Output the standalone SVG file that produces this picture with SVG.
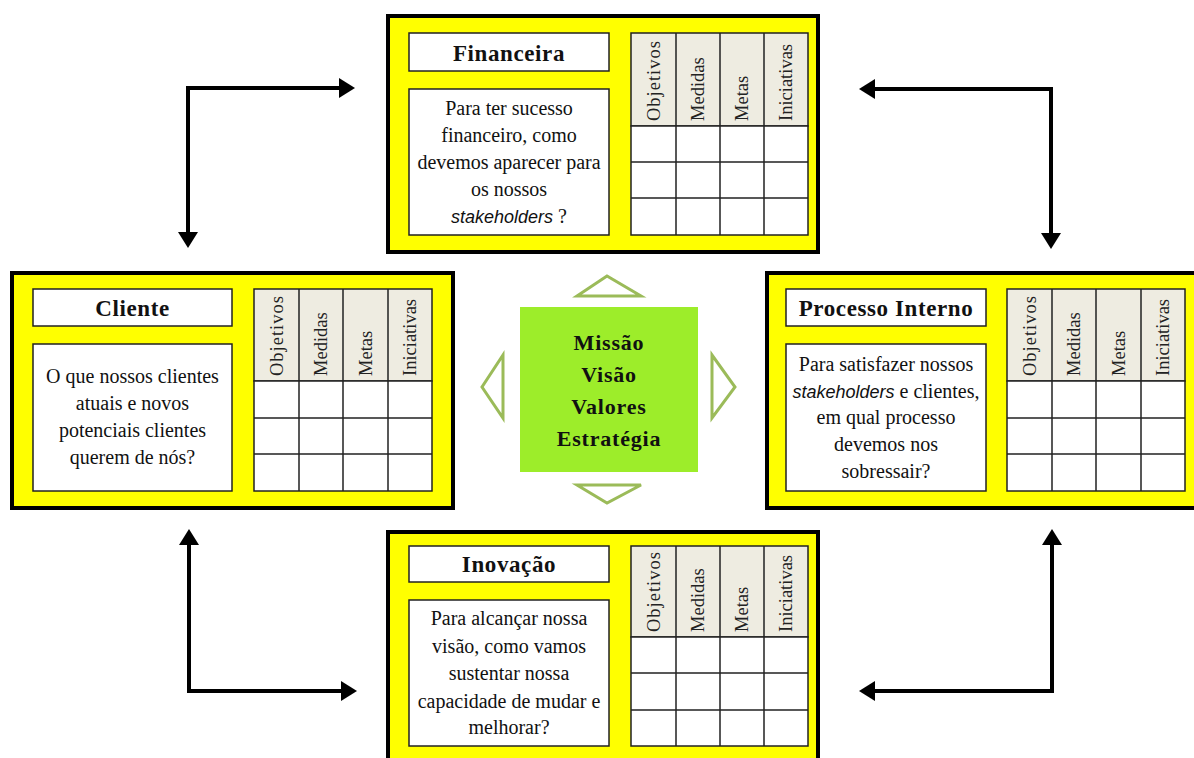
<svg xmlns="http://www.w3.org/2000/svg" width="1194" height="758" viewBox="0 0 1194 758">
<style>
.outer{fill:#ffff00;stroke:#000;stroke-width:4}
.box{fill:#fff;stroke:#222;stroke-width:1.5}
.hdr{fill:#eeece1;stroke:#222;stroke-width:1.5}
.grid{stroke:#222;stroke-width:1.5;fill:none}
.title{font-family:"Liberation Serif","Times New Roman",serif;font-weight:bold;font-size:23px;letter-spacing:0.6px;fill:#111;text-anchor:middle}
.q{font-family:"Liberation Serif","Times New Roman",serif;font-size:20px;fill:#111;text-anchor:middle}
.it{font-family:"Liberation Sans",Arial,sans-serif;font-style:italic;font-size:18px}
.col{font-family:"Liberation Serif","Times New Roman",serif;font-size:18.5px;fill:#222}
.center{font-family:"Liberation Serif","Times New Roman",serif;font-weight:bold;font-size:22px;letter-spacing:0.8px;fill:#111;text-anchor:middle}
.tri{fill:#fff;stroke:#9bbb59;stroke-width:3;stroke-linejoin:miter}
.conn{fill:none;stroke:#000;stroke-width:4;stroke-linejoin:miter;marker-start:url(#ah);marker-end:url(#ah)}
</style>
<defs>
<marker id="ah" viewBox="0 0 16 20" markerWidth="16" markerHeight="20" refX="0" refY="10" markerUnits="userSpaceOnUse" orient="auto-start-reverse">
<path d="M0,0 L16,10 L0,20 z" fill="#000"/>
</marker>
</defs>
<rect width="1194" height="758" fill="#fff"/>

<g id="connectors">
<path class="conn" d="M188,232 L188,88 L339,88"/>
<path class="conn" d="M875,89 L1051,89 L1051,233"/>
<path class="conn" d="M189,545 L189,691 L341,691"/>
<path class="conn" d="M1052,545 L1052,691 L875,691"/>
</g>

<g id="financeira">
<rect class="outer" x="388" y="16" width="430" height="236"/>
<rect class="box" x="409" y="33" width="200" height="38"/>
<text class="title" x="509" y="61">Financeira</text>
<rect class="box" x="409" y="89" width="200" height="146"/>
<text class="q" x="509" y="115">Para ter sucesso</text>
<text class="q" x="509" y="142">financeiro, como</text>
<text class="q" x="509" y="169">devemos aparecer para</text>
<text class="q" x="509" y="196">os nossos</text>
<text class="q" x="509" y="223"><tspan class="it">stakeholders</tspan> ?</text>
<rect class="hdr" x="631" y="33" width="177" height="93"/>
<rect class="box" x="631" y="126" width="177" height="109"/>
<path class="grid" d="M676,33V235M720,33V235M764,33V235M631,162H808M631,198H808"/>
<text class="col" transform="translate(659.5,121) rotate(-90)" letter-spacing="1">Objetivos</text>
<text class="col" transform="translate(704,121) rotate(-90)">Medidas</text>
<text class="col" transform="translate(748,121) rotate(-90)">Metas</text>
<text class="col" transform="translate(792,121) rotate(-90)">Iniciativas</text>
</g>

<g id="cliente">
<rect class="outer" x="12" y="273" width="441" height="235"/>
<rect class="box" x="33" y="289" width="199" height="37"/>
<text class="title" x="132.5" y="316">Cliente</text>
<rect class="box" x="33" y="344" width="199" height="147"/>
<text class="q" x="132.5" y="383">O que nossos clientes</text>
<text class="q" x="132.5" y="410">atuais e novos</text>
<text class="q" x="132.5" y="437">potenciais clientes</text>
<text class="q" x="132.5" y="464">querem de nós?</text>
<rect class="hdr" x="254" y="289" width="178" height="92"/>
<rect class="box" x="254" y="381" width="178" height="110"/>
<path class="grid" d="M299,289V491M343,289V491M388,289V491M254,418H432M254,454H432"/>
<text class="col" transform="translate(282.5,376) rotate(-90)" letter-spacing="1">Objetivos</text>
<text class="col" transform="translate(327,376) rotate(-90)">Medidas</text>
<text class="col" transform="translate(371.5,376) rotate(-90)">Metas</text>
<text class="col" transform="translate(416,376) rotate(-90)">Iniciativas</text>
</g>

<g id="processo-interno">
<rect class="outer" x="767" y="273" width="440" height="235"/>
<rect class="box" x="786" y="289" width="200" height="37"/>
<text class="title" x="886" y="316">Processo Interno</text>
<rect class="box" x="786" y="344" width="200" height="147"/>
<text class="q" x="886" y="371">Para satisfazer nossos</text>
<text class="q" x="886" y="398"><tspan class="it">stakeholders</tspan>  e clientes,</text>
<text class="q" x="886" y="424">em qual processo</text>
<text class="q" x="886" y="451">devemos nos</text>
<text class="q" x="886" y="478">sobressair?</text>
<rect class="hdr" x="1007" y="289" width="178" height="92"/>
<rect class="box" x="1007" y="381" width="178" height="110"/>
<path class="grid" d="M1052,289V491M1096,289V491M1141,289V491M1007,418H1185M1007,454H1185"/>
<text class="col" transform="translate(1035.5,376) rotate(-90)" letter-spacing="1">Objetivos</text>
<text class="col" transform="translate(1080,376) rotate(-90)">Medidas</text>
<text class="col" transform="translate(1124.5,376) rotate(-90)">Metas</text>
<text class="col" transform="translate(1169,376) rotate(-90)">Iniciativas</text>
</g>

<g id="inovacao">
<rect class="outer" x="388" y="532" width="430" height="240"/>
<rect class="box" x="409" y="546" width="200" height="36"/>
<text class="title" x="509" y="572">Inovação</text>
<rect class="box" x="409" y="600" width="200" height="146"/>
<text class="q" x="509" y="625">Para alcançar nossa</text>
<text class="q" x="509" y="653">visão, como vamos</text>
<text class="q" x="509" y="680">sustentar nossa</text>
<text class="q" x="509" y="708">capacidade de mudar e</text>
<text class="q" x="509" y="734">melhorar?</text>
<rect class="hdr" x="631" y="546" width="177" height="91"/>
<rect class="box" x="631" y="637" width="177" height="109"/>
<path class="grid" d="M676,546V746M720,546V746M764,546V746M631,673H808M631,710H808"/>
<text class="col" transform="translate(659.5,632) rotate(-90)" letter-spacing="1">Objetivos</text>
<text class="col" transform="translate(704,632) rotate(-90)">Medidas</text>
<text class="col" transform="translate(748,632) rotate(-90)">Metas</text>
<text class="col" transform="translate(792,632) rotate(-90)">Iniciativas</text>
</g>

<g id="missao">
<polygon class="tri" points="607,276 577,296 641,296"/>
<polygon class="tri" points="577,485 641,485 607,503"/>
<polygon class="tri" points="503,355 503,418 482,387"/>
<polygon class="tri" points="712,355 712,418 735,387"/>
<rect x="520" y="307" width="178" height="165" fill="#9ded2a"/>
<text class="center" x="609" y="350">Missão</text>
<text class="center" x="609" y="382">Visão</text>
<text class="center" x="609" y="414">Valores</text>
<text class="center" x="609" y="446">Estratégia</text>
</g>
</svg>
